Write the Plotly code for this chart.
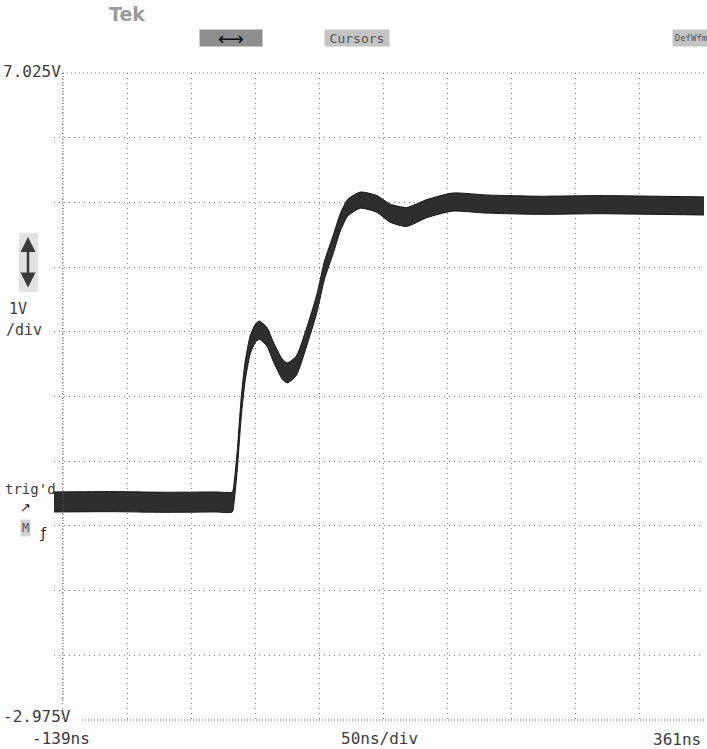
import plotly.graph_objects as go

# ---- data ----
time_ns = [-146, -100, -60, -20, -7, -5.5, -3, 0, 3, 7, 11, 14, 20, 25, 32, 36, 43,
           51, 59, 65, 72, 77, 83, 93, 106, 116, 129, 145, 165, 191, 233, 279, 361]
volts = [0.395, 0.40, 0.39, 0.395, 0.395, 0.55, 1.05, 1.85, 2.40, 2.82, 3.00, 3.05, 2.95,
         2.72, 2.45, 2.39, 2.50, 2.94, 3.46, 3.98, 4.39, 4.70, 4.94, 5.06, 5.00, 4.86,
         4.80, 4.93, 5.03, 5.00, 4.98, 4.99, 4.97]
half_band = [0.155, 0.155, 0.155, 0.155, 0.155, 0.15, 0.15, 0.15, 0.15, 0.14, 0.14, 0.14,
             0.145, 0.15, 0.155, 0.155, 0.15, 0.14, 0.14, 0.14, 0.14, 0.135, 0.13, 0.125,
             0.13, 0.14, 0.147, 0.14, 0.14, 0.14, 0.14, 0.14, 0.14]

x_range = [-146, 361]
y_range = [-2.975, 7.025]
x_tick0, x_dtick = -139, 50
y_tick0, y_dtick = -2.975, 1

upper = [v + h for v, h in zip(volts, half_band)]
lower = [v - h for v, h in zip(volts, half_band)]

W, H = 707, 749
L, R, T, B = 54, 704, 73, 720


def px(xp):
    return (xp - L) / (R - L)


def py(yp):
    return (B - yp) / (B - T)


fig = go.Figure()
fig.add_trace(go.Scatter(x=time_ns, y=upper, mode="lines",
                         line=dict(color="#151515", width=1, shape="spline", smoothing=0.6),
                         hoverinfo="skip", showlegend=False))
fig.add_trace(go.Scatter(x=time_ns, y=lower, mode="lines", fill="tonexty",
                         fillcolor="#2e2e2e",
                         line=dict(color="#151515", width=1, shape="spline", smoothing=0.6),
                         hoverinfo="skip", showlegend=False))

grid = dict(showgrid=True, gridcolor="#808080", gridwidth=1, griddash="1px,4px",
            zeroline=False, showticklabels=False, ticks="", showline=False)
fig.update_xaxes(range=x_range, tick0=x_tick0, dtick=x_dtick, **grid)
fig.update_yaxes(range=y_range, tick0=y_tick0, dtick=y_dtick, **grid)

mono = "DejaVu Sans Mono"
txt = "#3c3c3c"
ann = []


def label(text, x, y, xa="left", size=16, color=txt, bg=None, family=mono, w=None, h=None):
    d = dict(text=text, x=px(x), y=py(y), xref="paper", yref="paper", showarrow=False,
             xanchor=xa, yanchor="middle", font=dict(family=family, size=size, color=color))
    if bg:
        d["bgcolor"] = bg
    if w:
        d["width"] = w
    if h:
        d["height"] = h
    ann.append(d)


label("7.025V", 1, 71)
label("-2.975V", 1, 716)
label("-139ns", 30, 738)
label("50ns/div", 380, 738, xa="center")
label("361ns", 703, 739, xa="right")
label("1V", 7, 309, size=15)
label("/div", 4, 330, size=15)
label("trig'd", 3, 489, size=14)
label("<b>Tek</b>", 127, 14, xa="center", size=19, color="#9a9a9a", family="DejaVu Sans")
label("⟷", 231, 38, xa="center", size=18, color="#111", bg="#8e8e8e", family="DejaVu Sans",
      w=60, h=14)
label("Cursors", 357, 38, xa="center", size=13, color="#555", bg="#c4c4c4", w=62, h=14)
label("DefWfm", 672, 38, size=9, color="#555", bg="#c4c4c4", w=34, h=14)
label("↗", 25, 507, xa="center", size=13, color="#222", family="DejaVu Sans")
label("M", 25, 528, xa="center", size=12, color="#555", bg="#d0d0d0")
label("ƒ", 43, 533, xa="center", size=14, color="#222", family="DejaVu Sans")

# vertical double arrow (volts/div selector)
ann.append(dict(x=px(28), y=py(237), xref="paper", yref="paper",
                axref="pixel", ayref="pixel", ax=0, ay=52, text="", showarrow=True,
                arrowhead=2, arrowside="end+start", arrowsize=1.2, arrowwidth=2.5,
                arrowcolor="#3a3a3a"))

shapes = [
    dict(type="rect", xref="paper", yref="paper", x0=px(19), x1=px(38), y0=py(233), y1=py(292),
         fillcolor="#e2e2e2", line=dict(width=0), layer="below"),
    # dense dotted borders
    dict(type="line", xref="paper", yref="paper", x0=px(63), x1=px(63), y0=py(73), y1=py(702),
         line=dict(color="#666", width=1, dash="1px,2px")),
    dict(type="line", xref="paper", yref="paper", x0=px(82), x1=px(704), y0=py(720), y1=py(720),
         line=dict(color="#666", width=1, dash="1px,2px")),
    dict(type="line", xref="paper", yref="paper", x0=px(63), x1=px(704), y0=py(73), y1=py(73),
         line=dict(color="#777", width=1, dash="1px,3px")),
]

fig.update_layout(width=W, height=H, margin=dict(l=L, r=W - R, t=T, b=H - B),
                  paper_bgcolor="white", plot_bgcolor="white",
                  annotations=ann, shapes=shapes, showlegend=False)

fig.write_html("out.html", config={"displayModeBar": False},
               post_script="document.body.style.margin='0px';")
